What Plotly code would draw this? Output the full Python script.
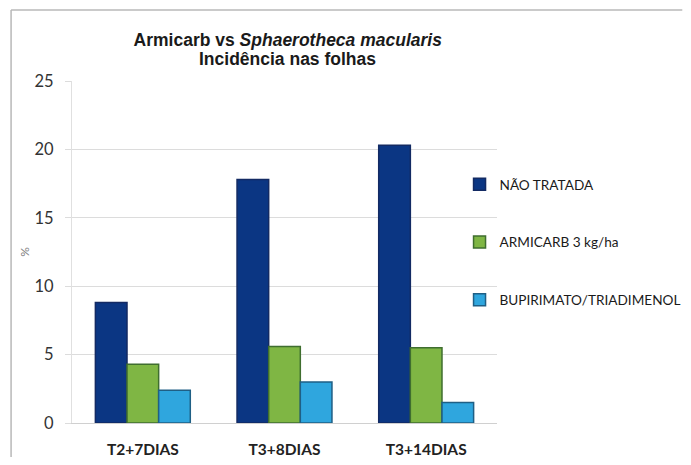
import plotly.graph_objects as go

categories = ["T2+7DIAS", "T3+8DIAS", "T3+14DIAS"]
series_names = ["NÃO TRATADA", "ARMICARB 3 kg/ha", "BUPIRIMATO/TRIADIMENOL"]
nao_tratada = [8.8, 17.8, 20.3]
armicarb = [4.3, 5.6, 5.5]
bupirimato = [2.4, 3.0, 1.5]
y_ticks = [0, 5, 10, 15, 20, 25]
title_line1 = "Armicarb vs <i>Sphaerotheca macularis</i>"
title_line2 = "Incidência nas folhas"

fill_colors = ["#0b3683", "#7fb644", "#2fa6de"]
edge_colors = ["#132a63", "#3f6e2f", "#1f5f85"]

# page body has an 8px margin; figure coordinates = screen - 8
W, H = 675, 449
L, R, T, B = 64, 185.5, 73, 34
pw = W - L - R
ph = H - T - B

fig = go.Figure()
for i, (name, vals) in enumerate(zip(series_names, [nao_tratada, armicarb, bupirimato])):
    fig.add_trace(go.Bar(
        x=categories, y=vals, name=name, legendgroup=str(i),
        marker=dict(color=fill_colors[i], line=dict(color=edge_colors[i], width=1.5)),
    ))

def px_x(x):
    return (x - L) / pw

def px_y(y):
    return (H - B - y) / ph

title_font = dict(family="Liberation Sans, Arial, sans-serif", size=17.5, color="#1a1a1a", weight="bold")

fig.update_layout(
    width=W, height=H,
    margin=dict(l=L, r=R, t=T, b=B, autoexpand=False),
    paper_bgcolor="white", plot_bgcolor="white",
    barmode="group", bargap=0.33, bargroupgap=0,
    font=dict(family="Lato, Open Sans, sans-serif", color="#404040"),
    title=dict(
        text=title_line1,
        x=px_x(280), xref="paper", xanchor="center",
        y=1 - 32 / H, yref="container", yanchor="middle",
        font=title_font,
    ),
    annotations=[
        dict(text=title_line2, xref="paper", yref="paper", x=px_x(280), y=px_y(51),
             xanchor="center", yanchor="middle", showarrow=False, font=title_font),
    ],
    xaxis=dict(
        showline=True, linecolor="#d0d0d0", linewidth=1,
        ticks="", tickfont=dict(size=15.5, color="#222222", weight="bold"),
        ticklabelstandoff=12,
        showgrid=False,
    ),
    yaxis=dict(
        range=[0, 25], tickvals=y_ticks, showgrid=True, gridcolor="#dcdcdc", gridwidth=1,
        showline=True, linecolor="#e0e0e0", linewidth=1,
        ticks="outside", ticklen=6, tickcolor="#dcdcdc",
        ticklabelstandoff=8,
        tickfont=dict(size=16.5, color="#333333"),
        title=dict(text="%", font=dict(size=12, color="#808080"), standoff=2),
        zeroline=False,
    ),
    legend=dict(
        x=px_x(452), xanchor="left", y=px_y(161), yanchor="top",
        bgcolor="rgba(0,0,0,0)", tracegroupgap=37,
        font=dict(size=13.6, color="#1a1a1a", family="Lato, Open Sans, sans-serif"),
    ),
    shapes=[
        dict(type="line", xref="paper", yref="paper", x0=px_x(3), x1=px_x(3),
             y0=px_y(2), y1=px_y(449), line=dict(color="#b8b8b8", width=1.5)),
        dict(type="line", xref="paper", yref="paper", x0=px_x(3), x1=px_x(675),
             y0=px_y(2), y1=px_y(2), line=dict(color="#b8b8b8", width=1.5)),
    ],
)

fig.write_html("out.html")
